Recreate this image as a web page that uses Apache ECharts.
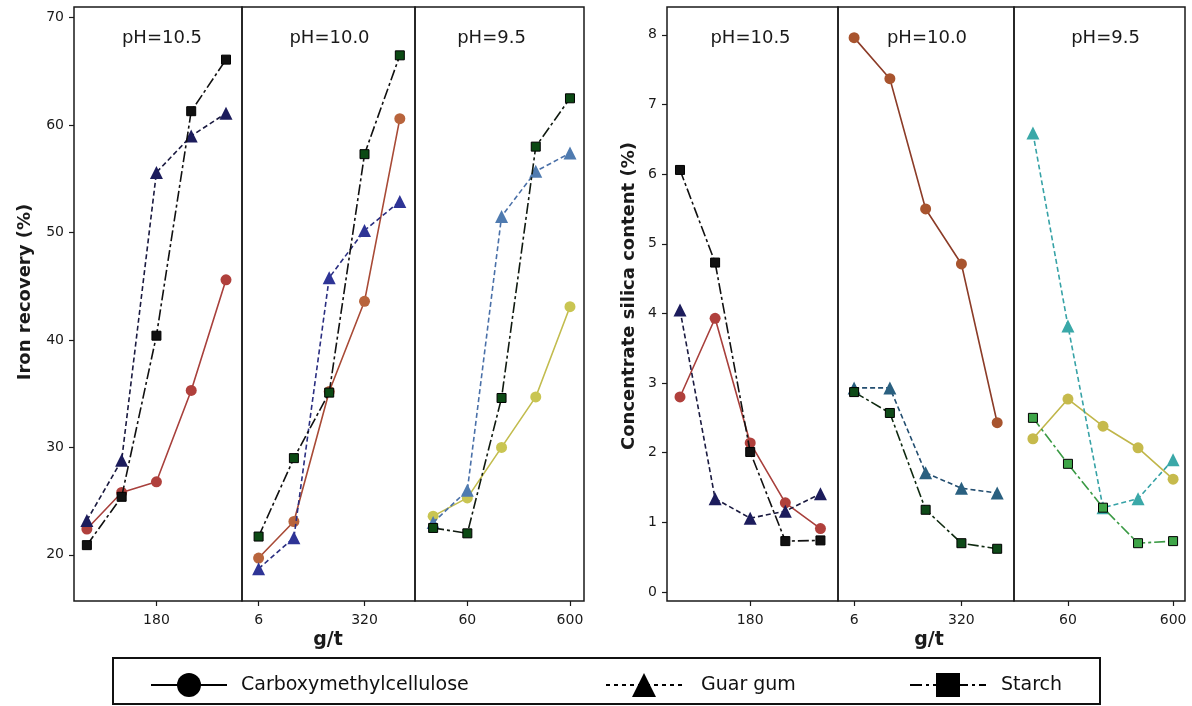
<!DOCTYPE html>
<html>
<head>
<meta charset="utf-8">
<script src="https://cdn.jsdelivr.net/npm/echarts@6/dist/echarts.min.js"></script>
<style>html,body{margin:0;padding:0;background:#fff}#c{width:1192px;height:706px}</style>
</head>
<body>
<div id="c"></div>
<script>
// ---- Data (5 dosage levels per pH panel) ----
const ticks105 = ['', '', '180', '', ''];
const ticks100 = ['6', '', '', '320', ''];
const ticks95  = ['', '60', '', '', '600'];
const panelTitles = ['pH=10.5', 'pH=10.0', 'pH=9.5'];
const recTicks = [20, 30, 40, 50, 60, 70];
const silTicks = [0, 1, 2, 3, 4, 5, 6, 7, 8];

// Iron recovery (%)
const recCmc105    = [22.4, 25.8, 26.8, 35.3, 45.6];
const recGuar105   = [23.2, 28.8, 55.6, 59.0, 61.1];
const recStarch105 = [20.9, 25.4, 40.4, 61.3, 66.1];
const recCmc100    = [19.7, 23.1, 35.2, 43.6, 60.6];
const recGuar100   = [18.7, 21.6, 45.8, 50.2, 52.9];
const recStarch100 = [21.7, 29.0, 35.1, 57.3, 66.5];
const recCmc95     = [23.6, 25.3, 30.0, 34.7, 43.1];
const recGuar95    = [23.0, 26.0, 51.5, 55.7, 57.4];
const recStarch95  = [22.5, 22.0, 34.6, 58.0, 62.5];

// Concentrate silica content (%)
const silCmc105    = [2.80, 3.93, 2.14, 1.28, 0.91];
const silGuar105   = [4.05, 1.34, 1.06, 1.16, 1.41];
const silStarch105 = [6.06, 4.73, 2.01, 0.73, 0.74];
const silCmc100    = [7.96, 7.37, 5.50, 4.71, 2.43];
const silGuar100   = [2.93, 2.93, 1.71, 1.49, 1.42];
const silStarch100 = [2.87, 2.57, 1.18, 0.70, 0.62];
const silCmc95     = [2.20, 2.77, 2.38, 2.07, 1.62];
const silGuar95    = [6.59, 3.82, 1.21, 1.34, 1.90];
const silStarch95  = [2.50, 1.84, 1.21, 0.70, 0.73];

// ---- Layout / style ----
const grids = [
  {left: 74,  width: 168, xmin: -0.37, xmax: 4.46, ticks: ticks105},
  {left: 242, width: 173, xmin: -0.47, xmax: 4.43, ticks: ticks100},
  {left: 415, width: 169, xmin: -0.53, xmax: 4.41, ticks: ticks95},
  {left: 667, width: 171, xmin: -0.37, xmax: 4.50, ticks: ticks105},
  {left: 838, width: 176, xmin: -0.45, xmax: 4.47, ticks: ticks100},
  {left: 1014, width: 171, xmin: -0.54, xmax: 4.34, ticks: ticks95}
];
const TOP = 7, BOTTOM_Y = 601;
const panelData = [
  [recCmc105, recGuar105, recStarch105],
  [recCmc100, recGuar100, recStarch100],
  [recCmc95, recGuar95, recStarch95],
  [silCmc105, silGuar105, silStarch105],
  [silCmc100, silGuar100, silStarch100],
  [silCmc95, silGuar95, silStarch95]
];
// [cmc marker, cmc line, guar marker, guar line, starch marker, starch line]
const panelColors = [
  ['#b0403c', '#a8403c', '#1c1c5c', '#1a1a40', '#111111', '#111111'],
  ['#b8643c', '#a84a36', '#2e3496', '#2a2e80', '#0c4a14', '#111111'],
  ['#c9c552', '#c2bc4e', '#4f7bb0', '#4a70a8', '#0c4a14', '#101a10'],
  ['#b0403c', '#a8403c', '#1c1c5c', '#1a1a40', '#111111', '#111111'],
  ['#a8542e', '#8c3c28', '#2a6080', '#234e70', '#0e4a18', '#0f2a10'],
  ['#c6ba4c', '#c0b64a', '#3aa8a8', '#36a2a6', '#3ea548', '#3a9a44']
];
const guarDash = [5, 3];
const starchDash = [11, 3, 3, 3];

const option = {
  animation: false,
  backgroundColor: '#fff',
  grid: [], xAxis: [], yAxis: [], series: [],
  legend: [
    {data: ['Carboxymethylcellulose'], left: 145, top: 668, pad: 9},
    {data: ['Guar gum'], left: 600, top: 668, pad: 14},
    {data: ['Starch'], left: 904, top: 668, pad: 10}
  ].map(l => {
    const p = l.pad; delete l.pad;
    return Object.assign(l, {
      itemWidth: 76, itemHeight: 30, selectedMode: false,
      textStyle: {fontFamily: 'DejaVu Sans', fontSize: 19, color: '#111', padding: [0, 0, 0, p]}
    });
  }),
  graphic: []
};

grids.forEach((g, i) => {
  const isRec = i < 3;
  const first = (i === 0 || i === 3);
  option.grid.push({left: g.left, width: g.width, top: TOP, height: BOTTOM_Y - TOP,
    show: true, borderColor: '#1a1a1a', borderWidth: 1.5, backgroundColor: 'transparent'});
  const tickIdx = g.ticks.map((t, k) => t ? k : null).filter(k => k !== null);
  option.xAxis.push({
    type: 'value', gridIndex: i, min: g.xmin, max: g.xmax, position: 'bottom',
    axisLine: {show: false, onZero: false}, splitLine: {show: false},
    axisTick: {show: true, customValues: tickIdx, length: 5, lineStyle: {color: '#1a1a1a', width: 1.2}},
    axisLabel: {show: true, customValues: tickIdx, formatter: v => g.ticks[Math.round(v)] || '',
      fontFamily: 'DejaVu Sans', fontSize: 14, color: '#1a1a1a', margin: 12}
  });
  const tv = isRec ? recTicks : silTicks;
  option.yAxis.push({
    type: 'value', gridIndex: i, position: 'left',
    min: isRec ? 15.7 : -0.13, max: isRec ? 71.0 : 8.4,
    splitLine: {show: false},
    axisLine: {show: false, onZero: false},
    axisTick: {show: first, customValues: tv, length: 5, lineStyle: {color: '#1a1a1a', width: 1.2}},
    axisLabel: {show: first, customValues: tv, fontFamily: 'DejaVu Sans', fontSize: 14, color: '#1a1a1a', margin: 10}
  });
  const c = panelColors[i];
  const d = panelData[i];
  const mk = arr => arr.map((v, k) => [k, v]);
  option.series.push(
    {type: 'line', name: 'cmc' + i, xAxisIndex: i, yAxisIndex: i, data: mk(d[0]),
     symbol: 'circle', symbolSize: 11, itemStyle: {color: c[0]},
     lineStyle: {color: c[1], width: 1.6, type: 'solid'}, z: 3},
    {type: 'line', name: 'guar' + i, xAxisIndex: i, yAxisIndex: i, data: mk(d[1]),
     symbol: 'triangle', symbolSize: 13, itemStyle: {color: c[2]},
     lineStyle: {color: c[3], width: 1.6, type: guarDash}, z: 4},
    {type: 'line', name: 'starch' + i, xAxisIndex: i, yAxisIndex: i, data: mk(d[2]),
     symbol: 'rect', symbolSize: 9, itemStyle: {color: c[4], borderColor: '#000', borderWidth: 1},
     lineStyle: {color: c[5], width: 1.6, type: starchDash}, z: 5}
  );
  option.graphic.push({type: 'text', x: g.left + g.width / 2 + [4, 1, -8, -2, 1, 6][i], y: 38, z: 10,
    style: {text: panelTitles[i % 3], font: '18px "DejaVu Sans"', fill: '#1a1a1a',
      textAlign: 'center', textVerticalAlign: 'middle'}});
});

// legend-only series
option.series.push(
  {type: 'line', name: 'Carboxymethylcellulose', xAxisIndex: 0, yAxisIndex: 0, data: [],
   symbol: 'circle', itemStyle: {color: '#000'}, lineStyle: {color: '#000', width: 1.5, type: 'solid'}},
  {type: 'line', name: 'Guar gum', xAxisIndex: 0, yAxisIndex: 0, data: [],
   symbol: 'triangle', itemStyle: {color: '#000'}, lineStyle: {color: '#000', width: 1.5, type: [4, 4]}},
  {type: 'line', name: 'Starch', xAxisIndex: 0, yAxisIndex: 0, data: [],
   symbol: 'rect', itemStyle: {color: '#000'}, lineStyle: {color: '#000', width: 1.5, type: [12, 4, 3, 4]}}
);

option.graphic.push(
  {type: 'text', x: 25, y: 292, rotation: Math.PI / 2, z: 10,
   style: {text: 'Iron recovery (%)', font: 'bold 18px "DejaVu Sans"', fill: '#1a1a1a', textAlign: 'center', textVerticalAlign: 'middle'}},
  {type: 'text', x: 629, y: 296, rotation: Math.PI / 2, z: 10,
   style: {text: 'Concentrate silica content (%)', font: 'bold 18px "DejaVu Sans"', fill: '#1a1a1a', textAlign: 'center', textVerticalAlign: 'middle'}},
  {type: 'text', x: 328, y: 640, z: 10,
   style: {text: 'g/t', font: 'bold 19px "DejaVu Sans"', fill: '#1a1a1a', textAlign: 'center', textVerticalAlign: 'middle'}},
  {type: 'text', x: 929, y: 640, z: 10,
   style: {text: 'g/t', font: 'bold 19px "DejaVu Sans"', fill: '#1a1a1a', textAlign: 'center', textVerticalAlign: 'middle'}},
  {type: 'rect', z: 1, shape: {x: 113, y: 658, width: 987, height: 46},
   style: {fill: 'none', stroke: '#111', lineWidth: 2}}
);

const chart = echarts.init(document.getElementById('c'), null, {renderer: 'canvas'});
chart.setOption(option);
</script>
</body>
</html>
